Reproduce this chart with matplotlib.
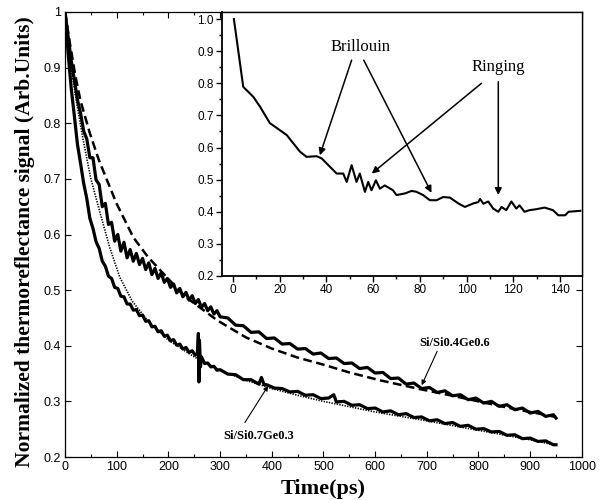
import matplotlib
matplotlib.use('Agg')
import matplotlib.pyplot as plt
from matplotlib.ticker import MultipleLocator

# ---------------- data ----------------
# Si/Si0.4Ge0.6 measured (upper noisy solid)
t_up = [0, 6, 12, 18, 24, 30, 36, 42, 48, 54, 60, 66, 72, 78, 84, 90, 96, 102, 108, 114,
        120, 126, 132, 138, 144, 150, 156, 162, 168, 174, 180, 186, 192, 198, 204, 210,
        216, 222, 228, 234, 240, 246, 252, 258, 264, 270, 276, 282, 288, 294, 300,
        315, 330, 345, 360, 375, 390, 405, 420, 435, 450, 465, 480, 495, 510, 525, 540,
        555, 570, 585, 600, 615, 630, 645, 660, 675, 690, 705, 720, 735, 750, 765, 780,
        795, 810, 825, 840, 855, 870, 885, 900, 915, 930, 945, 950]
v_up = [1.0, 0.955, 0.912, 0.878, 0.842, 0.818, 0.786, 0.772, 0.738, 0.738, 0.698, 0.69,
        0.65, 0.656, 0.618, 0.622, 0.588, 0.6, 0.57, 0.586, 0.558, 0.573, 0.552, 0.566,
        0.546, 0.557, 0.537, 0.549, 0.528, 0.539, 0.521, 0.531, 0.514, 0.521, 0.505, 0.511,
        0.495, 0.503, 0.488, 0.496, 0.482, 0.49, 0.476, 0.483, 0.469, 0.476, 0.463, 0.47,
        0.457, 0.463, 0.452,
        0.450, 0.437, 0.436, 0.424, 0.425, 0.413, 0.414, 0.403, 0.404, 0.394, 0.395, 0.385,
        0.387, 0.377, 0.378, 0.368, 0.369, 0.359, 0.361, 0.351, 0.352, 0.341, 0.342, 0.331,
        0.333, 0.323, 0.325, 0.316, 0.319, 0.310, 0.312, 0.303, 0.306, 0.297, 0.300, 0.291,
        0.294, 0.285, 0.288, 0.279, 0.282, 0.273, 0.276, 0.270]

# Si/Si0.7Ge0.3 measured (lower solid)
t_lo = [0, 6, 12, 18, 24, 30, 36, 42, 48, 54, 60, 66, 72, 78, 84, 90, 96, 102, 108, 114,
        120, 126, 132, 138, 144, 150, 156, 162, 168, 174, 180, 186, 192, 198, 204, 210,
        216, 222, 228, 234, 240, 246, 252, 256, 258, 259, 260, 262, 264, 270, 276, 282,
        288, 294, 300,
        315, 330, 345, 360, 375, 380, 385, 390, 405, 420, 435, 450, 465, 480, 495, 510,
        520, 525, 540, 555, 570, 585, 600, 615, 630, 645, 660, 675, 690, 705, 720, 735,
        750, 765, 780, 795, 810, 825, 840, 855, 870, 885, 900, 915, 930, 945, 950]
v_lo = [1.0, 0.925, 0.862, 0.813, 0.762, 0.728, 0.692, 0.665, 0.629, 0.611, 0.587, 0.575,
        0.552, 0.543, 0.525, 0.521, 0.505, 0.503, 0.489, 0.488, 0.475, 0.475, 0.464, 0.465,
        0.454, 0.455, 0.444, 0.445, 0.434, 0.435, 0.425, 0.427, 0.417, 0.419, 0.409, 0.411,
        0.401, 0.403, 0.394, 0.397, 0.388, 0.391, 0.383, 0.386, 0.422, 0.335, 0.410, 0.362,
        0.380, 0.368, 0.369, 0.362, 0.363, 0.356, 0.357,
        0.349, 0.348, 0.339, 0.339, 0.331, 0.343, 0.330, 0.330, 0.324, 0.323, 0.317, 0.318,
        0.311, 0.312, 0.305, 0.306, 0.312, 0.299, 0.300, 0.293, 0.294, 0.287, 0.288, 0.281,
        0.283, 0.276, 0.278, 0.271, 0.272, 0.265, 0.267, 0.260, 0.262, 0.255, 0.257, 0.250,
        0.251, 0.245, 0.246, 0.239, 0.240, 0.233, 0.234, 0.228, 0.229, 0.222, 0.222]

# fit for Si/Si0.4Ge0.6 (dashed)
t_fit_up = [0, 10, 20, 30, 48, 65, 81, 100, 132, 160, 190, 230, 294, 350, 400, 449, 500,
            550, 609, 687, 750, 800, 850, 900, 950]
v_fit_up = [1.0, 0.94, 0.885, 0.84, 0.782, 0.735, 0.698, 0.655, 0.595, 0.56, 0.53, 0.49,
            0.446, 0.415, 0.395, 0.379, 0.366, 0.352, 0.338, 0.322, 0.31, 0.30, 0.29, 0.281,
            0.272]

# fit for Si/Si0.7Ge0.3 (dotted)
t_fit_lo = [0, 10, 20, 35, 50, 68, 87, 106, 130, 160, 200, 250, 300, 350, 400, 450, 500,
            600, 700, 800, 900, 950]
v_fit_lo = [1.0, 0.91, 0.85, 0.77, 0.70, 0.638, 0.575, 0.523, 0.48, 0.445, 0.41, 0.38,
            0.356, 0.338, 0.323, 0.311, 0.300, 0.281, 0.265, 0.248, 0.231, 0.221]

# inset: early-time trace
t_in = [0.4, 4.4, 8.7, 11.6, 15.8, 23, 28.7, 31.5, 35.8, 38, 44.4, 47.2, 48.7, 50.8, 52.9,
        54.3, 56.5, 57.9, 59.3, 61.2, 62.9, 65, 68.5, 70, 73.6, 76.5, 78.6, 81.4, 84.3,
        87.2, 90, 92.9, 96.5, 99.3, 102.9, 105, 105.8, 107.2, 109.3, 111.4, 113.6, 115,
        117, 119.2, 121.3, 122.7, 124.8, 127, 129.9, 133.4, 137, 139.3, 142.2, 143.7, 148.7]
v_in = [1.0, 0.789, 0.758, 0.727, 0.676, 0.639, 0.587, 0.571, 0.573, 0.566, 0.519, 0.519,
        0.493, 0.545, 0.493, 0.519, 0.462, 0.493, 0.467, 0.498, 0.472, 0.482, 0.467, 0.452,
        0.457, 0.465, 0.462, 0.452, 0.436, 0.436, 0.446, 0.444, 0.426, 0.415, 0.426, 0.43,
        0.44, 0.425, 0.432, 0.41, 0.40, 0.415, 0.405, 0.432, 0.41, 0.42, 0.40, 0.405, 0.408,
        0.413, 0.405, 0.389, 0.389, 0.40, 0.403]

main_xticks = [0, 100, 200, 300, 400, 500, 600, 700, 800, 900, 1000]
main_yticks = [0.2, 0.3, 0.4, 0.5, 0.6, 0.7, 0.8, 0.9, 1.0]
main_ylabels = ['0.2', '0.3', '0.4', '0.5', '0.6', '0.7', '0.8', '0.9', '1']
inset_xticks = [0, 20, 40, 60, 80, 100, 120, 140]
inset_yticks = [0.2, 0.3, 0.4, 0.5, 0.6, 0.7, 0.8, 0.9, 1.0]

SANS = 'Liberation Sans'
SERIF = 'Liberation Serif'

fig = plt.figure(figsize=(6.08, 5.0), dpi=100)
ax = fig.add_axes([0.107, 0.086, 0.850, 0.890])

ax.plot(t_fit_up, v_fit_up, color='black', lw=1.8, ls=(0, (3.5, 1.8)))
ax.plot(t_fit_lo, v_fit_lo, color='black', lw=1.2, ls=(0, (0.8, 0.8)))
ax.plot(t_up, v_up, color='black', lw=2.3)
ax.plot(t_lo, v_lo, color='black', lw=2.3)

ax.set_xlim(0, 1000)
ax.set_ylim(0.2, 1.0)
ax.set_xticks(main_xticks)
ax.set_xticklabels([str(v) for v in main_xticks])
ax.set_yticks(main_yticks)
ax.set_yticklabels(main_ylabels)
ax.xaxis.set_minor_locator(MultipleLocator(50))
ax.tick_params(which='both', direction='in', top=True, right=True, width=0.8)
ax.tick_params(which='major', length=4, labelsize=9, pad=3)
ax.tick_params(which='minor', length=2)
for lab in ax.get_xticklabels() + ax.get_yticklabels():
    lab.set_fontfamily(SANS)
for s in ax.spines.values():
    s.set_linewidth(0.9)

ax.set_xlabel('Time(ps)', fontfamily=SERIF, fontweight='bold', fontsize=16, labelpad=4)
ax.set_ylabel('Normalized thermoreflectance signal (Arb.Units)', fontfamily=SERIF,
              fontweight='bold', fontsize=15.5)
ax.yaxis.set_label_coords(-0.058, 0.485)

small_arrow = dict(arrowstyle='-|>', color='black', lw=0.8, mutation_scale=7,
                   shrinkA=0, shrinkB=0)
ax.text(754, 0.405, 'Si/Si0.4Ge0.6', fontfamily=SERIF, fontweight='bold', fontsize=9,
        ha='center', va='center')
ax.annotate('', xy=(690, 0.329), xytext=(720, 0.39), arrowprops=small_arrow)
ax.text(375, 0.237, 'Si/Si0.7Ge0.3', fontfamily=SERIF, fontweight='bold', fontsize=9,
        ha='center', va='center')
ax.annotate('', xy=(393, 0.328), xytext=(348, 0.262), arrowprops=small_arrow)

# ---------------- inset ----------------
ins = fig.add_axes([0.3651, 0.448, 0.592, 0.528])
ins.plot(t_in, v_in, color='black', lw=1.5)
ins.set_xlim(-4.7, 149.4)
ins.set_ylim(0.2, 1.022)
ins.set_xticks(inset_xticks)
ins.set_xticklabels([str(v) for v in inset_xticks])
ins.set_yticks(inset_yticks)
ins.set_yticklabels(['%.1f' % v for v in inset_yticks])
ins.xaxis.set_minor_locator(MultipleLocator(10))
ins.yaxis.set_minor_locator(MultipleLocator(0.05))
ins.tick_params(which='both', direction='out', width=1.0)
ins.tick_params(which='major', length=4, labelsize=8.5, pad=2)
ins.tick_params(which='minor', length=2.5)
for lab in ins.get_xticklabels() + ins.get_yticklabels():
    lab.set_fontfamily(SANS)
for s in ins.spines.values():
    s.set_linewidth(1.0)
ins.spines['left'].set_linewidth(1.3)
ins.spines['bottom'].set_linewidth(1.3)

arrow = dict(arrowstyle='-|>', color='black', lw=1.1, mutation_scale=10, shrinkA=0, shrinkB=0)
ins.text(54.4, 0.912, 'Brillouin', fontfamily=SERIF, fontsize=12, ha='center', va='center')
ins.text(113.4, 0.852, 'Ringing', fontfamily=SERIF, fontsize=12, ha='center', va='center')
ins.annotate('', xy=(37.2, 0.576), xytext=(50.8, 0.872), arrowprops=arrow)
ins.annotate('', xy=(85, 0.459), xytext=(56, 0.872), arrowprops=arrow)
ins.annotate('', xy=(59.4, 0.519), xytext=(106.4, 0.80), arrowprops=arrow)
ins.annotate('', xy=(113.6, 0.452), xytext=(113.6, 0.805), arrowprops=arrow)

fig.savefig('out.png', dpi=100)
